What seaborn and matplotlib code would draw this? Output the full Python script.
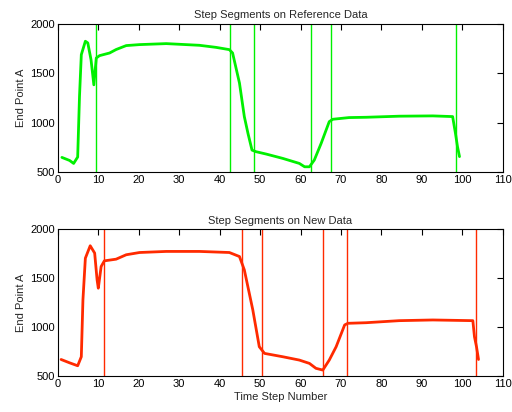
import numpy as np
import pandas as pd
import seaborn as sns
import matplotlib
matplotlib.use("Agg")
import matplotlib.pyplot as plt

# reference data (top panel)
ref_step = [1, 2.9, 3.9, 4.9, 5.35, 5.8, 6.8, 7.4, 8.2, 8.9, 9.5, 10.3, 12.8, 14.4, 16.9,
            20.2, 26.8, 35, 39.1, 42.4, 43.2, 44.9, 46.1, 47, 48, 49, 51.5, 55.6, 59.7,
            61, 62.2, 63.4, 65.1, 67.1, 68, 72, 76.2, 84.4, 92.7, 97.6, 98.3, 98.8, 99.3]
ref_value = [646, 615, 585, 650, 1264, 1688, 1824, 1807, 1637, 1382, 1654, 1678, 1705, 1740, 1780,
             1790, 1800, 1783, 1762, 1739, 1705, 1400, 1060, 890, 720, 704, 680, 636, 585,
             551, 551, 619, 789, 1009, 1033, 1050, 1053, 1064, 1067, 1060, 890, 755, 654]
ref_bounds = [9.5, 42.5, 48.5, 62.5, 67.5, 98.5]

# new data (bottom panel)
new_step = [0.8, 2.9, 4.9, 5.8, 6.2, 6.8, 8, 9.1, 9.7, 10, 10.7, 11.5, 14.4, 16.9, 20.2,
            26.8, 35, 42.4, 44.9, 46.1, 48.2, 49.8, 51.1, 55.6, 59.7, 62.2, 63.8, 65.5,
            67.1, 68.8, 70.9, 71.7, 76.2, 84.4, 92.7, 102.6, 103, 103.5, 104]
new_value = [670, 636, 606, 698, 1277, 1703, 1830, 1755, 1482, 1397, 1618, 1676, 1693, 1738, 1761,
             1772, 1772, 1761, 1720, 1584, 1175, 800, 732, 698, 664, 630, 580, 562,
             664, 800, 1022, 1039, 1045, 1066, 1073, 1066, 902, 800, 670]
new_bounds = [11.5, 45.5, 50.5, 65.5, 71.5, 103.5]

sns.set_style("white")
plt.rcParams["font.family"] = ["Liberation Sans", "DejaVu Sans"]

fig = plt.figure(figsize=(5.12, 4.12), dpi=100)
ax1 = fig.add_axes([0.113, 0.583, 0.869, 0.359])
ax2 = fig.add_axes([0.113, 0.087, 0.869, 0.357])

panels = [
    (ax1, ref_step, ref_value, ref_bounds, "#00f000", "Step Segments on Reference Data"),
    (ax2, new_step, new_value, new_bounds, "#ff2a00", "Step Segments on New Data"),
]
for ax, xs, ys, bounds, color, title in panels:
    df = pd.DataFrame({"step": xs, "value": ys})
    sns.lineplot(data=df, x="step", y="value", color=color, linewidth=2, ax=ax)
    for b in bounds:
        ax.axvline(b, color=color, linewidth=1)
    ax.set_xlim(0, 110)
    ax.set_ylim(500, 2000)
    ax.set_xticks(np.arange(0, 111, 10))
    ax.set_yticks([500, 1000, 1500, 2000])
    ax.tick_params(direction="in", length=4, width=0.8, top=True, right=True,
                   labelsize=8, colors="black", pad=2)
    for s in ax.spines.values():
        s.set_color("black")
        s.set_linewidth(0.8)
    ax.set_title(title, fontsize=8, pad=4)
    ax.set_ylabel("End Point A", fontsize=8, labelpad=3)
    ax.set_xlabel("")

ax2.set_xlabel("Time Step Number", fontsize=8, labelpad=2)

fig.savefig("out.png", dpi=100)
